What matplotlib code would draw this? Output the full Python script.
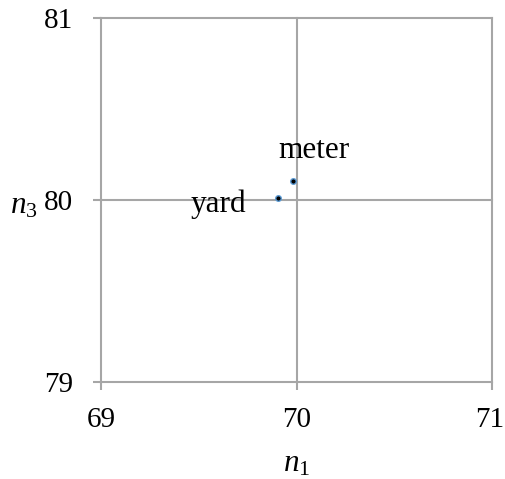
import matplotlib
matplotlib.use("Agg")
import matplotlib.pyplot as plt
import matplotlib.transforms as mtransforms

labels = ["yard", "meter"]
n1 = [69.905, 69.982]
n3 = [80.01, 80.105]
xticks = [69, 70, 71]
yticks = [79, 80, 81]

plt.rcParams['font.family'] = ['Liberation Serif']
plt.rcParams['mathtext.fontset'] = 'custom'
plt.rcParams['mathtext.rm'] = 'Liberation Serif'
plt.rcParams['mathtext.it'] = 'Liberation Serif:italic'

FS = 22.5
TFS = 21
fig = plt.figure(figsize=(5.05, 4.79), dpi=100)
ax = fig.add_axes([101/505, 1-382/479, 391/505, 364/479])
grid_c = '#a6a6a6'
for v in xticks:
    ax.axvline(v, color=grid_c, lw=1.5, zorder=1, clip_on=False)
for v in yticks:
    ax.axhline(v, color=grid_c, lw=1.5, zorder=1, clip_on=False)
for s in ax.spines.values():
    s.set_visible(False)
ax.set_xlim(69, 71)
ax.set_ylim(79, 81)
ax.set_xticks(xticks)
ax.set_yticks(yticks)
ax.tick_params(axis='both', direction='out', length=6, width=1.5, color=grid_c,
               labelsize=TFS)
ax.tick_params(axis='y', pad=14)
ax.tick_params(axis='x', pad=12)
ax.scatter(n1, n3, s=16, facecolor='black', edgecolor='#5b9bd5', linewidth=1.0, zorder=3)

ax.text(69.742, 79.978, labels[0], fontsize=FS, ha='right', va='center')
ax.text(70.087, 80.231, labels[1], fontsize=FS, ha='center', va='baseline')

fig.text(24/505, 1-206/479, r'$n_3$', fontsize=FS, ha='center', va='center')
fig.text(297/505, 1-464/479, r'$n_1$', fontsize=FS, ha='center', va='center')

fig.canvas.draw()
last = ax.get_xticklabels()[-1]
last.set_transform(last.get_transform() + mtransforms.ScaledTranslation(-2/100, 0, fig.dpi_scale_trans))

fig.savefig('out.png', dpi=100)
